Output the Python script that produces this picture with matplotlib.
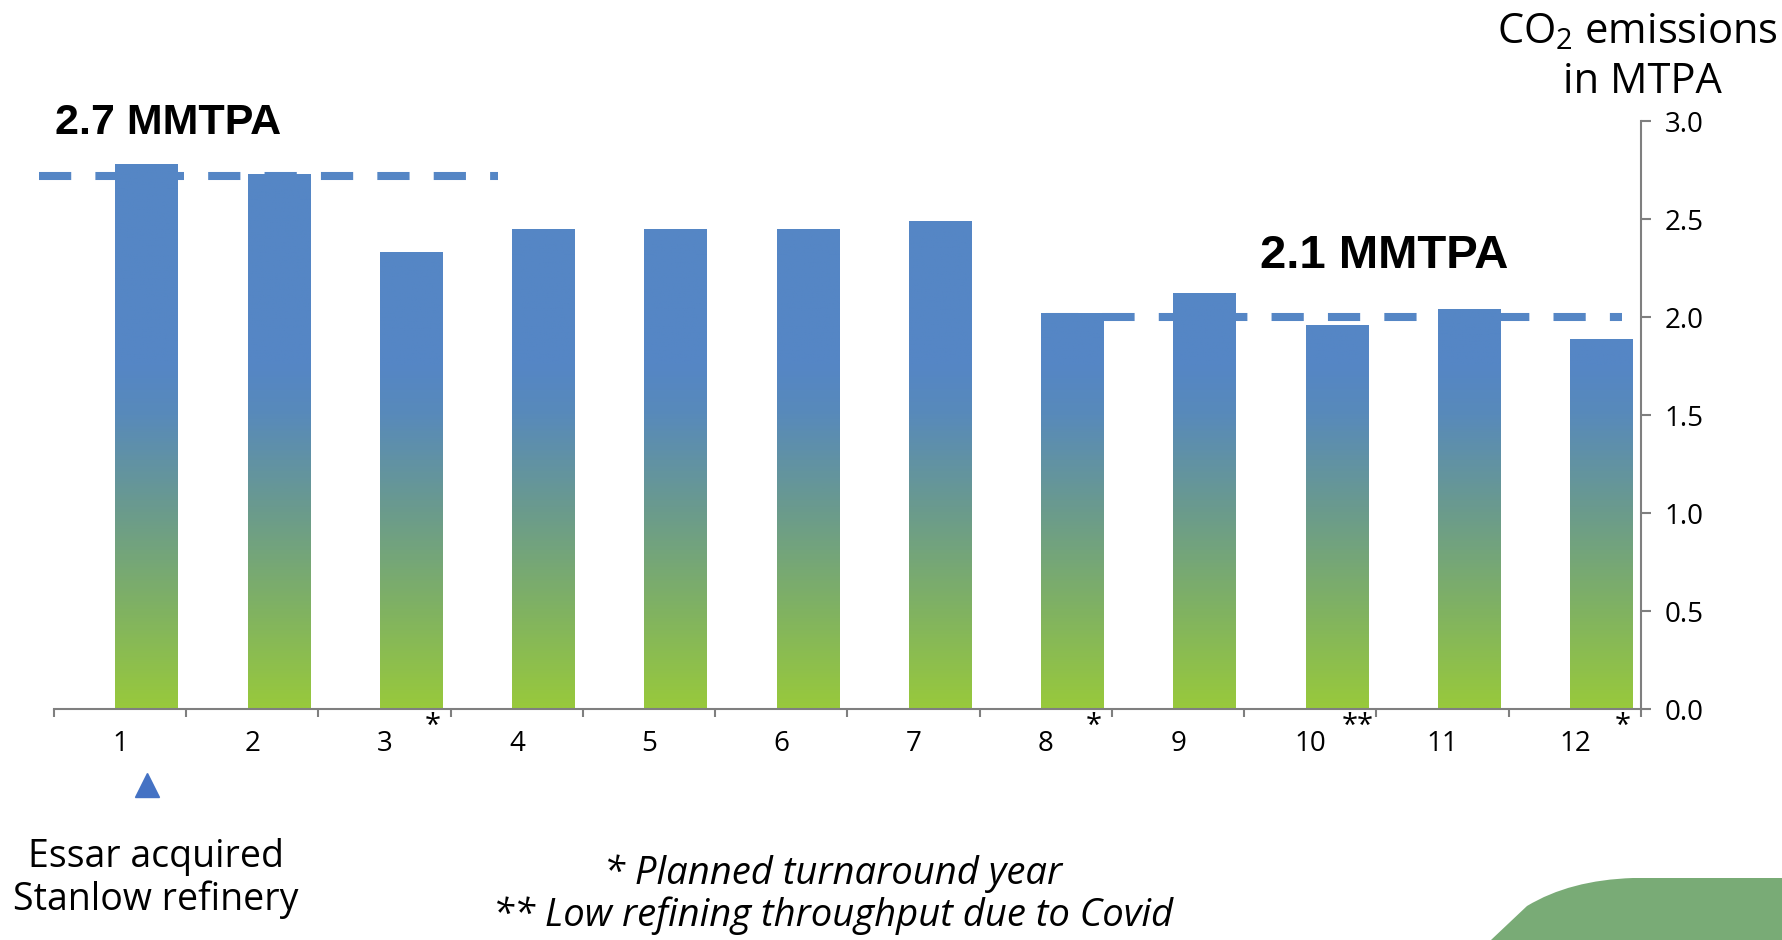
import numpy as np
import matplotlib
matplotlib.use('Agg')
from matplotlib import pyplot as plt
from matplotlib.colors import LinearSegmentedColormap
from matplotlib.path import Path
from matplotlib.patches import PathPatch

# data
years = list(range(1, 13))
year_labels = [str(y) for y in years]
emissions = [2.78, 2.73, 2.33, 2.45, 2.45, 2.45, 2.49, 2.02, 2.12, 1.96, 2.04, 1.89]
notes = ['', '', '*', '', '', '', '', '*', '', '**', '', '*']
start_level = 2.72
recent_level = 2.0
y_ticks = [0.0, 0.5, 1.0, 1.5, 2.0, 2.5, 3.0]

plt.rcParams['font.family'] = ['Open Sans', 'DejaVu Sans']
plt.rcParams['mathtext.fontset'] = 'custom'
plt.rcParams['mathtext.rm'] = 'Open Sans'
plt.rcParams['mathtext.it'] = 'Open Sans:italic'

W, H = 1783, 940
fig = plt.figure(figsize=(W / 100, H / 100), dpi=100)
# axes placed so that x 0.5..12.5 spans px 54..1641 and y 0..3 spans px 709..121
ax = fig.add_axes([54 / W, 1 - 709 / H, (1641 - 54) / W, (709 - 121) / H])

blue = '#5586C5'
cmap = LinearSegmentedColormap.from_list('co2', [
    (0.0, (152/255, 201/255, 60/255)),
    (0.5/3, (128/255, 178/255, 98/255)),
    (1.0/3, (107/255, 155/255, 140/255)),
    (1.5/3, (88/255, 138/255, 186/255)),
    (1.75/3, (85/255, 134/255, 197/255)),
    (1.0, (85/255, 134/255, 197/255)),
])

# bars sit a bit right of the category centre in the original
bar_x = np.array(years) + 0.2
bars = ax.bar(bar_x, emissions, width=0.47, color='none', edgecolor='none', zorder=2)
grad = np.linspace(0, 3, 300).reshape(-1, 1)
for b in bars:
    x0 = b.get_x()
    im = ax.imshow(grad, extent=[x0, x0 + b.get_width(), 0, 3], origin='lower',
                   cmap=cmap, vmin=0, vmax=3, aspect='auto', zorder=2)
    im.set_clip_path(b)
ax.set_xlim(0.5, 12.5)
ax.set_ylim(0, 3.0)

# reference level lines (behind bars)
l1, = ax.plot([0.39, 3.86], [start_level, start_level], color=blue, lw=5.8,
              clip_on=False, zorder=1)
l2, = ax.plot([8.0, 12.36], [recent_level, recent_level], color=blue, lw=5.8,
              clip_on=False, zorder=1)
for ln in (l1, l2):
    ln.set_dashes((4, 3))
    ln.set_dash_capstyle('butt')

ax.text(0.51, 2.99, '2.7 MMTPA', family='Liberation Sans', weight='bold',
        fontsize=31, ha='left', va='center', clip_on=False)
ax.text(9.62, 2.31, '2.1 MMTPA', family='Liberation Sans', weight='bold',
        fontsize=34, ha='left', va='center', clip_on=False)

# footnote markers under the bars
for x, n in zip(years, notes):
    if n:
        ax.text(x + 0.36, -0.09, n, fontsize=21, ha='center', va='center', clip_on=False)

# acquisition marker
ax.plot([bar_x[0]], [-0.39], marker='^', markersize=17, color='#4472C4',
        clip_on=False, linestyle='none')

# axes styling
for s in ('left', 'top'):
    ax.spines[s].set_visible(False)
for s in ('bottom', 'right'):
    ax.spines[s].set_color('#7F7F7F')
    ax.spines[s].set_linewidth(1.5)
ax.set_xticks(years)
ax.set_xticklabels(year_labels)
ax.set_xticks(np.arange(0.5, 13, 1.0), minor=True)
ax.tick_params(axis='x', which='major', length=0, pad=15, labelsize=20)
ax.tick_params(axis='x', which='minor', length=6, width=1.5, color='#7F7F7F', direction='out')
ax.yaxis.tick_right()
ax.set_yticks(y_ticks)
ax.set_yticklabels([f'{v:.1f}' for v in y_ticks])
ax.tick_params(axis='y', which='major', length=7, width=1.5, color='#7F7F7F',
               direction='out', pad=10, labelsize=20)

# axis title top right
fig.text(1637 / W, 1 - 43 / H, 'CO$_\\mathrm{2}$ emissions', fontsize=30,
         ha='center', va='baseline')
fig.text(1642 / W, 1 - 93 / H, 'in MTPA', fontsize=30, ha='center', va='baseline')

fig.text(156 / W, 1 - 867 / H, 'Essar acquired', fontsize=27, ha='center', va='baseline')
fig.text(156 / W, 1 - 910 / H, 'Stanlow refinery', fontsize=27, ha='center', va='baseline')

fig.text(833 / W, 1 - 874 / H, '* Planned turnaround year', fontsize=27.5,
         style='italic', ha='center', va='center')
fig.text(833 / W, 1 - 916 / H, '** Low refining throughput due to Covid', fontsize=27.5,
         style='italic', ha='center', va='center')

# decorative green shape, bottom right corner
verts = [(1491, 940), (1527, 906), (1570, 880), (1633, 878), (1783, 878), (1783, 940), (1491, 940)]
codes = [Path.MOVETO, Path.LINETO, Path.CURVE3, Path.CURVE3, Path.LINETO, Path.LINETO, Path.CLOSEPOLY]
verts = [(x / W, 1 - y / H) for x, y in verts]
shape = PathPatch(Path(verts, codes), facecolor='#79AB76', edgecolor='none',
                  transform=fig.transFigure)
fig.add_artist(shape)

fig.savefig('out.png', dpi=100, facecolor='white')
